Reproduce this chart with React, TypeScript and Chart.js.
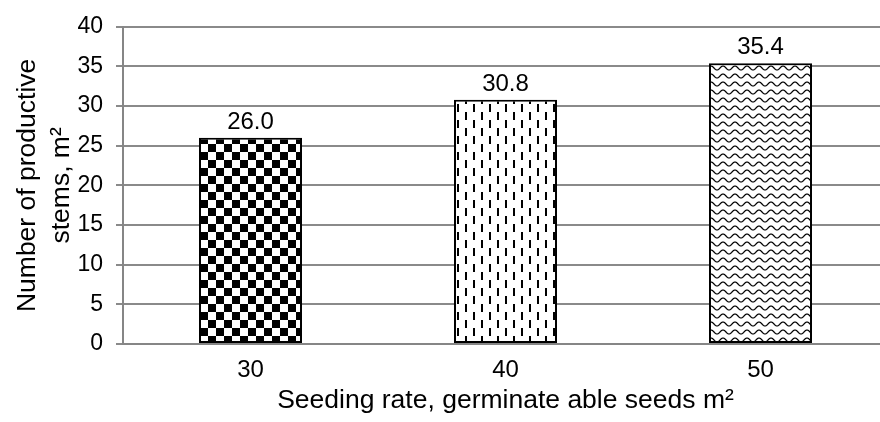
import React, { useEffect, useRef } from "react";
import { Chart, registerables } from "chart.js";

Chart.register(...registerables);

const categories: string[] = ["30", "40", "50"];
const stemValues: number[] = [26.0, 30.8, 35.4];
const yTicks: number[] = [0, 5, 10, 15, 20, 25, 30, 35, 40];
const yTitle: string[] = ["Number of productive", "stems, m²"];
const xTitle = "Seeding rate, germinate able seeds m²";

const FONT = "'Liberation Sans', Arial, sans-serif";

function makeTile(w: number, h: number, draw: (c: CanvasRenderingContext2D) => void) {
  const cv = document.createElement("canvas");
  cv.width = w;
  cv.height = h;
  const c = cv.getContext("2d")!;
  c.fillStyle = "#ffffff";
  c.fillRect(0, 0, w, h);
  draw(c);
  const ctx = document.createElement("canvas").getContext("2d")!;
  return ctx.createPattern(cv, "repeat") as CanvasPattern;
}

function checker() {
  return makeTile(16, 16, (c) => {
    c.fillStyle = "#000";
    c.fillRect(0, 0, 8, 8);
    c.fillRect(8, 8, 8, 8);
  });
}

function dashes() {
  return makeTile(16, 16, (c) => {
    c.fillStyle = "#000";
    c.fillRect(1, 0, 2, 8);
    c.fillRect(9, 8, 2, 8);
  });
}

function waves() {
  return makeTile(12, 8, (c) => {
    c.strokeStyle = "#000";
    c.lineWidth = 1.2;
    c.beginPath();
    for (let x = -1; x <= 13; x += 0.5) {
      const y = 4 - 2 * Math.sin((2 * Math.PI * x) / 12);
      if (x === -1) c.moveTo(x, y);
      else c.lineTo(x, y);
    }
    c.stroke();
  });
}

const valueLabels = {
  id: "valueLabels",
  afterDatasetsDraw(chart: any) {
    const ctx = chart.ctx;
    const meta = chart.getDatasetMeta(0);
    ctx.save();
    ctx.font = `24px ${FONT}`;
    ctx.fillStyle = "#000";
    ctx.textAlign = "center";
    ctx.textBaseline = "alphabetic";
    meta.data.forEach((el: any, i: number) => {
      const v = chart.data.datasets[0].data[i] as number;
      ctx.fillText(v.toFixed(1), el.x, el.y - 9);
    });
    ctx.restore();
  },
};

export default function App() {
  const ref = useRef<HTMLCanvasElement | null>(null);
  useEffect(() => {
    if (!ref.current) return;
    const chart = new Chart(ref.current, {
      type: "bar",
      data: {
        labels: categories,
        datasets: [
          {
            data: stemValues,
            backgroundColor: [checker(), dashes(), waves()],
            borderColor: "#000",
            borderWidth: 2,
            borderSkipped: false,
            barPercentage: 0.404,
            categoryPercentage: 1,
          },
        ],
      },
      options: {
        responsive: false,
        animation: false,
        devicePixelRatio: 1,
        layout: { padding: { top: 24, right: 2, left: 0, bottom: 0 } },
        plugins: { legend: { display: false }, tooltip: { enabled: false } },
        scales: {
          x: {
            grid: { display: false, drawTicks: false, tickLength: 0 },
            border: { display: true, color: "#868686", width: 2 },
            ticks: { color: "#000", font: { family: FONT, size: 24 }, padding: 12 },
            title: {
              display: true,
              text: xTitle,
              color: "#000",
              font: { family: FONT, size: 26.5, lineHeight: 1.2 },
              padding: { top: 0, bottom: 5 },
            },
            afterFit: (s: any) => {
              s.height = 78;
            },
          },
          y: {
            min: 0,
            max: 40,
            afterBuildTicks: (s: any) => {
              s.ticks = yTicks.map((v) => ({ value: v }));
            },
            grid: { color: "#8a8a8a", lineWidth: 2, tickLength: 7, drawTicks: true },
            border: { display: true, color: "#868686", width: 2 },
            ticks: { color: "#000", font: { family: FONT, size: 23 }, padding: 13 },
            title: {
              display: true,
              text: yTitle,
              color: "#000",
              font: { family: FONT, size: 26.5, lineHeight: 1.283 },
              padding: { top: 11, bottom: 0 },
            },
            afterFit: (s: any) => {
              s.width = 123;
            },
          },
        },
      },
      plugins: [valueLabels],
    });
    return () => chart.destroy();
  }, []);
  return (
    <div
      style={{
        position: "fixed",
        left: 0,
        top: 0,
        width: 880,
        height: 422,
        overflow: "hidden",
        background: "#fff",
      }}
    >
      <canvas ref={ref} width={890} height={422} style={{ display: "block" }} />
    </div>
  );
}
